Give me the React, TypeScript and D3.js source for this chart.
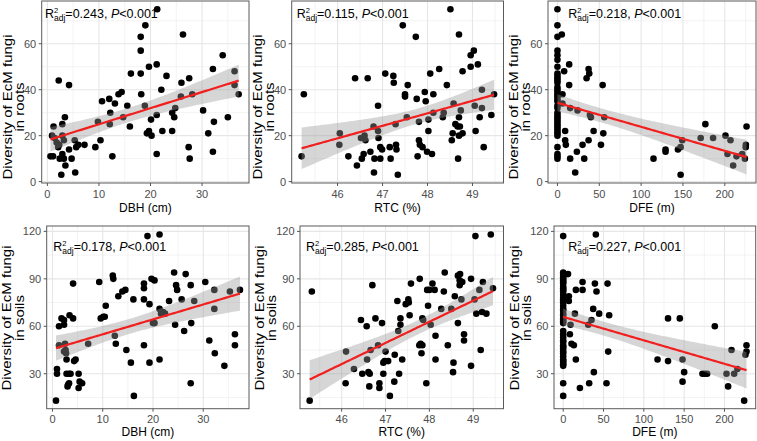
import React from "react";
import * as d3 from "d3";

type Pt = [number, number];

// ---------- data ----------
const dbhRoots: Pt[] = [
  [0.6, 11], [1.1, 11], [1.2, 24], [0.9, 20], [1.4, 19], [1.8, 17], [2.1, 15], [2.3, 16], [2.2, 44], [4.2, 42],
  [2.9, 20], [2.9, 25], [3.4, 28], [3.2, 18], [2.4, 10], [3.2, 10], [2.9, 12], [3.5, 7], [2.7, 3], [4.2, 14],
  [4.7, 10], [5.3, 18], [5.4, 4], [5.6, 15], [6.0, 16], [7.2, 16], [9.3, 15], [9.8, 26], [10.3, 18], [10.6, 35],
  [12.0, 36], [12.2, 30], [12.1, 25], [12.6, 11], [13.1, 34], [13.8, 38], [14.4, 39], [14.7, 28], [15.5, 33], [16.0, 24],
  [16.2, 47], [18.1, 63], [18.1, 57], [18.1, 47], [18.2, 38], [18.9, 33], [19.0, 68], [19.3, 21], [19.7, 22], [19.7, 50],
  [20.1, 27], [20.2, 20], [21.2, 51], [21.3, 75], [21.2, 29], [21.2, 12], [22.1, 40], [22.3, 22], [23.1, 46], [24.2, 30],
  [24.2, 22], [24.6, 28], [24.8, 32], [25.9, 37], [26.3, 64], [26.0, 43], [27.5, 45], [27.4, 15], [27.6, 10], [28.1, 38],
  [30.2, 31], [31.2, 21], [32.1, 49], [32.3, 26], [32.1, 13], [34.0, 55], [35.0, 28], [36.3, 48], [36.3, 42], [37.1, 38],
];

const rtcRoots: Pt[] = [
  [45.2, 11], [45.25, 38], [46.05, 21], [46.04, 16], [46.24, 11], [46.39, 45], [46.43, 7], [46.54, 10], [46.52, 19], [46.6, 20],
  [46.62, 18], [46.58, 12], [46.67, 45], [46.73, 13], [46.8, 24], [46.82, 10], [46.81, 4], [46.9, 33], [46.9, 22], [46.91, 19],
  [46.95, 15], [46.95, 10], [46.99, 14], [47.06, 47], [47.16, 15], [47.18, 10], [47.24, 46], [47.25, 43], [47.29, 25], [47.3, 16],
  [47.31, 14], [47.34, 3], [47.45, 68], [47.5, 37], [47.5, 38], [47.54, 28], [47.56, 42], [47.74, 63], [47.76, 36], [47.78, 11],
  [47.81, 26], [47.81, 18], [47.83, 16], [47.89, 15], [47.94, 39], [47.96, 35], [47.99, 13], [48.02, 27], [48.02, 22], [48.06, 47],
  [48.1, 12], [48.13, 38], [48.13, 30], [48.26, 49], [48.34, 28], [48.36, 30], [48.43, 42], [48.51, 75], [48.54, 18], [48.56, 21],
  [48.58, 34], [48.62, 25], [48.67, 24], [48.7, 20], [48.7, 28], [48.7, 64], [48.68, 10], [48.72, 24], [48.78, 48], [48.78, 21],
  [48.74, 31], [48.96, 50], [48.96, 55], [49.03, 57], [49.05, 33], [49.07, 22], [49.12, 51], [49.16, 28], [49.21, 40], [49.21, 32],
  [49.25, 15], [49.42, 29], [49.48, 38],
];

const dfeRoots: Pt[] = [
  [0, 75], [0, 68], [0, 63], [0, 57], [0, 55], [0, 53], [0, 50], [0, 47], [0, 46], [0, 45], [0, 44], [0, 43], [0, 41],
  [0, 40], [0, 39], [0, 38], [0, 37], [0, 36], [0, 35], [0, 33], [0, 32], [0, 30], [0, 29], [0, 28], [0, 27], [0, 26],
  [0, 25], [0, 24], [0, 23], [0, 22], [0, 21], [0, 20], [0, 15], [0, 12], [0, 11], [0, 10],
  [5.2, 64], [6, 38], [6, 34], [8, 48], [9.2, 22], [9.2, 18], [10, 16], [14, 42], [14, 51], [15.2, 10], [15.2, 32],
  [21.2, 4], [23.2, 13], [24, 31], [30, 16], [32, 10], [34.8, 45], [37.2, 49], [38, 47], [37.2, 18], [38.8, 29],
  [40, 28], [43.2, 22], [52, 16], [54, 42], [54.8, 21], [56, 28], [114.8, 10], [129.2, 14], [129.2, 13], [144, 14],
  [147.2, 15], [147.2, 3], [149.2, 18], [171.2, 19], [176.8, 25], [186, 19], [200.8, 20], [203.2, 12], [206.8, 18],
  [210, 7], [214, 11], [220.8, 12], [224, 10], [225.2, 16], [226, 24], [225, 15],
];

const dbhSoils: Pt[] = [
  [0.7, 13], [0.9, 33], [0.9, 30], [1.3, 48], [1.3, 60], [1.8, 65], [2.3, 64], [2.3, 61], [2.5, 49], [2.6, 45],
  [2.3, 44], [2.7, 43], [2.8, 39], [2.8, 30], [3.1, 23], [3.0, 22], [3.3, 24], [3.3, 30], [3.6, 30], [3.4, 67],
  [4.1, 65], [4.1, 87], [4.3, 38], [4.6, 39], [5.2, 30], [5.2, 21], [5.4, 25], [5.9, 24], [7.1, 49], [9.3, 88],
  [9.6, 65], [10.1, 66], [10.4, 66], [10.6, 73], [12.0, 92], [12.1, 90], [12.4, 54], [12.6, 49], [13.1, 79], [13.9, 82],
  [14.5, 83], [14.7, 45], [15.6, 37], [16.1, 77], [16.2, 16], [18.2, 87], [18.2, 84], [18.2, 77], [18.2, 48], [18.9, 117],
  [19.3, 74], [19.3, 37], [19.7, 90], [20.3, 89], [20.0, 62], [20.3, 62], [21.3, 118], [21.3, 71], [21.6, 68], [22.0, 69],
  [22.4, 68], [21.3, 39], [23.2, 76], [24.2, 94], [24.6, 86], [24.8, 83], [24.4, 61], [25.7, 77], [26.2, 57], [26.5, 93],
  [27.5, 86], [27.6, 62], [27.5, 24], [28.2, 76], [30.4, 88], [31.2, 51], [32.3, 43], [32.2, 83], [32.2, 71], [34.2, 35],
  [35.3, 82], [36.3, 55], [36.3, 48], [37.3, 83],
];

const rtcSoils: Pt[] = [
  [45.27, 13], [45.32, 82], [46.1, 44], [46.09, 24], [46.28, 33], [46.44, 64], [46.47, 30], [46.57, 60], [46.58, 39], [46.61, 31],
  [46.63, 22], [46.64, 30], [46.66, 45], [46.7, 86], [46.77, 65], [46.83, 48], [46.86, 24], [46.86, 21], [46.92, 62], [46.95, 37],
  [46.95, 30], [46.98, 38], [47.0, 44], [47.06, 38], [47.1, 16], [47.21, 42], [47.2, 25], [47.27, 76], [47.29, 57], [47.31, 30],
  [47.34, 65], [47.34, 61], [47.38, 39], [47.46, 74], [47.52, 77], [47.53, 75], [47.55, 67], [47.58, 87], [47.77, 48], [47.78, 90],
  [47.8, 49], [47.82, 43], [47.84, 65], [47.84, 48], [47.86, 64], [47.93, 24], [47.95, 83], [47.97, 73], [48.0, 83], [48.03, 61],
  [48.07, 87], [48.12, 83], [48.14, 54], [48.14, 39], [48.27, 71], [48.33, 82], [48.35, 94], [48.42, 48], [48.5, 71], [48.54, 31],
  [48.55, 37], [48.58, 79], [48.65, 62], [48.65, 92], [48.69, 89], [48.7, 93], [48.69, 86], [48.73, 77], [48.75, 88], [48.79, 55],
  [48.79, 51], [48.95, 90], [48.95, 35], [49.03, 77], [49.05, 117], [49.07, 68], [49.14, 83], [49.17, 45], [49.2, 69], [49.22, 88],
  [49.3, 68], [49.4, 118], [49.45, 84],
];

const dfeSoils: Pt[] = [
  [0, 117], [0, 94], [0, 93], [0, 92], [0, 91], [0, 90], [0, 89], [0, 88], [0, 87], [0, 85], [0, 84], [0, 83], [0, 82],
  [0, 80], [0, 78], [0, 77], [0, 76], [0, 75], [0, 73], [0, 71], [0, 70], [0, 68], [0, 67], [0, 65], [0, 64], [0, 63],
  [0, 62], [0, 57], [0, 55], [0, 53], [0, 51], [0, 50], [0, 48], [0, 47], [0, 46], [0, 44], [0, 43], [0, 41], [0, 39],
  [0, 38], [0, 37], [0, 36], [0, 35], [0, 24], [0, 16],
  [6, 93], [7, 79], [7, 76], [8.3, 55], [9.1, 61], [10.3, 49], [13.2, 48], [14.5, 68], [15.7, 83], [15.7, 39],
  [24, 88], [24, 83], [20.7, 21], [32.2, 24], [31, 61], [35.1, 64], [37.2, 71], [38, 31], [39.3, 87], [40.5, 118],
  [41.3, 82], [44.6, 68], [53.7, 24], [55, 87], [55.8, 44], [57, 67], [117, 39], [130, 38], [130, 65], [144.6, 65],
  [148, 39], [148, 25], [150, 31], [172.7, 30], [175.6, 30], [178.5, 30], [188, 60], [202.5, 30], [204.5, 22], [208.7, 45],
  [212, 30], [216, 33], [224.4, 13], [226, 42], [227.3, 44], [227.3, 48],
];

const statLabels = ["0.243", "0.115", "0.218", "0.178", "0.285", "0.227"];
const xTitles = ["DBH (cm)", "RTC (%)", "DFE (m)"];
const yTitleLine1 = "Diversity of EcM fungi";
const yTitleLine2 = ["in roots", "in soils"];
const dbhTicks = [0, 10, 20, 30];
const rtcTicks = [46, 47, 48, 49];
const dfeTicks = [0, 50, 100, 150, 200];
const rootsTicks = [0, 20, 40, 60];
const soilsTicks = [30, 60, 90, 120];

// ---------- layout ----------
const W = 757;
const H = 441;
const FONT = "'Liberation Sans', Arial, Helvetica, sans-serif";

type Panel = {
  data: Pt[];
  stat: string;
  xTitle: string;
  y2: string;
  l: number; r: number; t: number; b: number;
  xDomain: [number, number];
  yDomain: [number, number];
  xTicks: number[];
  yTicks: number[];
  annX: number; annY: number;
  titleOff: number;
  titleCy: number;
  xTitleY: number;
  xTickY: number;
};

const topRow = { t: 1, b: 183, yDomain: [-0.6, 78.6] as [number, number], titleCy: 107, xTitleY: 212, xTickY: 197.5 };
const botRow = { t: 226, b: 408.7, yDomain: [7.9, 123.4] as [number, number], titleCy: 318, xTitleY: 435.5, xTickY: 423 };

const panels: Panel[] = [
  { data: dbhRoots, stat: statLabels[0], xTitle: xTitles[0], y2: yTitleLine2[0], l: 41.7, r: 249, ...topRow,
    xDomain: [-1.1, 39.1], xTicks: dbhTicks, yTicks: rootsTicks, annX: 45, annY: 17.5, titleOff: 30 },
  { data: rtcRoots, stat: statLabels[1], xTitle: xTitles[1], y2: yTitleLine2[0], l: 291.7, r: 503.5, ...topRow,
    xDomain: [44.98, 49.69], xTicks: rtcTicks, yTicks: rootsTicks, annX: 296.7, annY: 17.5, titleOff: 30 },
  { data: dfeRoots, stat: statLabels[2], xTitle: xTitles[2], y2: yTitleLine2[0], l: 548, r: 756, ...topRow,
    xDomain: [-11.3, 237.3], xTicks: dfeTicks, yTicks: rootsTicks, annX: 568.3, annY: 17.5, titleOff: 30 },
  { data: dbhSoils, stat: statLabels[3], xTitle: xTitles[0], y2: yTitleLine2[1], l: 46.7, r: 249, ...botRow,
    xDomain: [-1.15, 39.1], xTicks: dbhTicks, yTicks: soilsTicks, annX: 53.3, annY: 250.8, titleOff: 35.5 },
  { data: rtcSoils, stat: statLabels[4], xTitle: xTitles[1], y2: yTitleLine2[1], l: 300, r: 503.5, ...botRow,
    xDomain: [45.05, 49.69], xTicks: rtcTicks, yTicks: soilsTicks, annX: 306, annY: 251.3, titleOff: 36 },
  { data: dfeSoils, stat: statLabels[5], xTitle: xTitles[2], y2: yTitleLine2[1], l: 554, r: 755.7, ...botRow,
    xDomain: [-11.4, 238.7], xTicks: dfeTicks, yTicks: soilsTicks, annX: 568.3, annY: 250.8, titleOff: 35 },
];

const T975 = 1.99;

function lmFit(data: Pt[]) {
  const n = data.length;
  const mx = d3.mean(data, (d) => d[0]) as number;
  const my = d3.mean(data, (d) => d[1]) as number;
  let sxx = 0, sxy = 0;
  for (const [x, y] of data) { sxx += (x - mx) ** 2; sxy += (x - mx) * (y - my); }
  const b = sxy / sxx;
  const a = my - b * mx;
  let sse = 0;
  for (const [x, y] of data) sse += (y - a - b * x) ** 2;
  const s = Math.sqrt(sse / (n - 2));
  const [x0, x1] = d3.extent(data, (d) => d[0]) as [number, number];
  return d3.range(81).map((i) => {
    const x = x0 + ((x1 - x0) * i) / 80;
    const yh = a + b * x;
    const se = s * Math.sqrt(1 / n + (x - mx) ** 2 / sxx);
    return { x, y: yh, lo: yh - T975 * se, hi: yh + T975 * se };
  });
}

function minorOf(ticks: number[], domain: [number, number]) {
  const step = ticks[1] - ticks[0];
  const out: number[] = [];
  for (let v = ticks[0] - step / 2; v <= domain[1]; v += step) {
    if (v >= domain[0]) out.push(v);
  }
  return out;
}

const Y_TITLE_SIZE = 12.5;
const Y_TITLE_STRETCH = 1.2;

function PanelView({ p, idx }: { p: Panel; idx: number }) {
  const x = d3.scaleLinear().domain(p.xDomain).range([p.l, p.r]);
  const y = d3.scaleLinear().domain(p.yDomain).range([p.b, p.t]);
  const fit = lmFit(p.data);
  const area = d3.area<{ x: number; lo: number; hi: number }>()
    .x((d) => x(d.x)).y0((d) => y(d.lo)).y1((d) => y(d.hi));
  const line = d3.line<{ x: number; y: number }>().x((d) => x(d.x)).y((d) => y(d.y));
  const xMinor = minorOf(p.xTicks, p.xDomain);
  const yMinor = minorOf(p.yTicks, p.yDomain);
  const clipId = `clip${idx}`;
  const cx = (p.l + p.r) / 2;
  return (
    <g>
      <defs>
        <clipPath id={clipId}>
          <rect x={p.l} y={p.t} width={p.r - p.l} height={p.b - p.t} />
        </clipPath>
      </defs>
      {xMinor.map((v) => (
        <line key={"xm" + v} x1={x(v)} x2={x(v)} y1={p.t} y2={p.b} stroke="#ebebeb" strokeWidth={0.6} />
      ))}
      {yMinor.map((v) => (
        <line key={"ym" + v} x1={p.l} x2={p.r} y1={y(v)} y2={y(v)} stroke="#ebebeb" strokeWidth={0.6} />
      ))}
      {p.xTicks.map((v) => (
        <line key={"xM" + v} x1={x(v)} x2={x(v)} y1={p.t} y2={p.b} stroke="#e6e6e6" strokeWidth={1.1} />
      ))}
      {p.yTicks.map((v) => (
        <line key={"yM" + v} x1={p.l} x2={p.r} y1={y(v)} y2={y(v)} stroke="#e6e6e6" strokeWidth={1.1} />
      ))}
      <g clipPath={`url(#${clipId})`}>
        {p.data.map((d, i) => (
          <circle key={i} cx={x(d[0])} cy={y(d[1])} r={3.3} fill="#000" />
        ))}
        <path d={area(fit) || ""} fill="#999999" fillOpacity={0.4} />
        <path d={line(fit) || ""} fill="none" stroke="#f21f1f" strokeWidth={2.2} />
      </g>
      <rect x={p.l} y={p.t} width={p.r - p.l} height={p.b - p.t} fill="none" stroke="#5a5a5a" strokeWidth={1} />
      {p.xTicks.map((v) => (
        <g key={"xt" + v}>
          <line x1={x(v)} x2={x(v)} y1={p.b} y2={p.b + 3} stroke="#555" strokeWidth={1} />
          <text x={x(v)} y={p.xTickY} textAnchor="middle" fontSize={11} fill="#4d4d4d" fontFamily={FONT}>{v}</text>
        </g>
      ))}
      {p.yTicks.map((v) => (
        <g key={"yt" + v}>
          <line x1={p.l - 3} x2={p.l} y1={y(v)} y2={y(v)} stroke="#555" strokeWidth={1} />
          <text x={p.l - 5.5} y={y(v) + 4} textAnchor="end" fontSize={11} fill="#4d4d4d" fontFamily={FONT}>{v}</text>
        </g>
      ))}
      <text x={cx} y={p.xTitleY} textAnchor="middle" fontSize={12} fill="#000" fontFamily={FONT}>{p.xTitle}</text>
      <text
        transform={`translate(${p.l - p.titleOff},${p.titleCy}) scale(1,${Y_TITLE_STRETCH}) rotate(-90)`}
        textAnchor="middle" fontSize={Y_TITLE_SIZE} fill="#000" fontFamily={FONT}
      >{yTitleLine1}</text>
      <text
        transform={`translate(${p.l - p.titleOff + 12.3},${p.titleCy}) scale(1,${Y_TITLE_STRETCH}) rotate(-90)`}
        textAnchor="middle" fontSize={Y_TITLE_SIZE} fill="#000" fontFamily={FONT}
      >{p.y2}</text>
      <text x={p.annX} y={p.annY} fontSize={12.5} fill="#000" fontFamily={FONT}>
        <tspan>R</tspan>
        <tspan fontSize={7.5} dy={-5}>2</tspan>
        <tspan fontSize={8.5} dx={-4.2} dy={8}>adj</tspan>
        <tspan dy={-3}>{"=" + p.stat + ", "}</tspan>
        <tspan fontStyle="italic">P</tspan>
        <tspan>{"<0.001"}</tspan>
      </text>
    </g>
  );
}

export default function App() {
  return (
    <svg
      width={W}
      height={H}
      viewBox={`0 0 ${W} ${H}`}
      style={{ position: "absolute", left: 0, top: 0, background: "#fff" }}
    >
      <rect width={W} height={H} fill="#fff" />
      {panels.map((p, i) => (
        <PanelView key={i} p={p} idx={i} />
      ))}
    </svg>
  );
}
